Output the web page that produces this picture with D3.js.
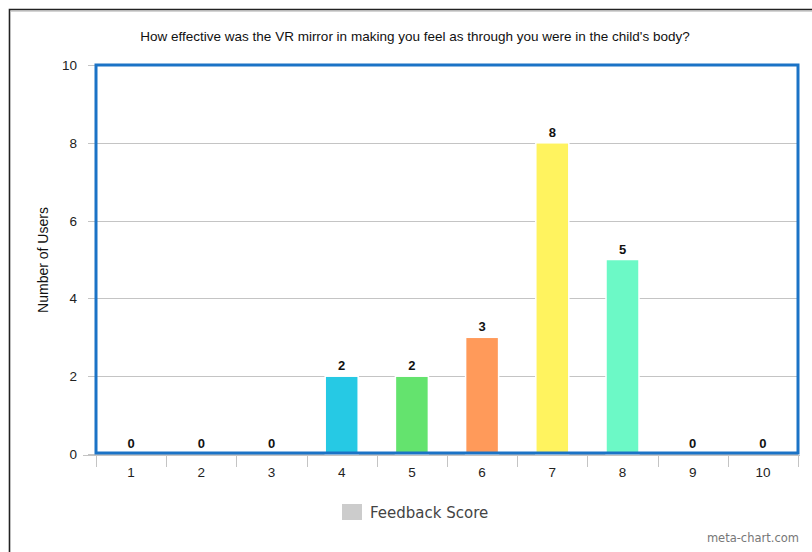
<!DOCTYPE html>
<html>
<head>
<meta charset="utf-8">
<script src="https://cdn.jsdelivr.net/npm/d3@7"></script>
<style>
  body { margin: 0; background: #fff; }
  text { font-family: "Liberation Sans", Arial, sans-serif; }
</style>
</head>
<body>
<div class="container"></div>
<script>
const WIDTH = 812;
const HEIGHT = 552;
const LEFT = 96, RIGHT = 798, TOP = 65, BOTTOM = 454;

var scores = ['1', '2', '3', '4', '5', '6', '7', '8', '9', '10'];
var users = [0, 0, 0, 2, 2, 3, 8, 5, 0, 0];
var barColors = ['#26c9e4', '#26c9e4', '#26c9e4', '#26c9e4', '#64e36e', '#ff9a5a', '#fff35f', '#6cf9c6', '#26c9e4', '#26c9e4'];
var yTicks = [0, 2, 4, 6, 8, 10];

var translate = function(x, y) {
    return `translate(${x},${y})`;
};

var draw = function() {
    var svg = d3.select('.container').append('svg')
        .attr('width', WIDTH)
        .attr('height', HEIGHT);

    // page border
    svg.append('path')
        .attr('d', `M9.5,${HEIGHT} V9.5 H${WIDTH}`)
        .attr('fill', 'none')
        .attr('stroke', '#222')
        .attr('stroke-width', 1.6);
    svg.append('line')
        .attr('x1', 11).attr('x2', WIDTH).attr('y1', 11).attr('y2', 11)
        .attr('stroke', '#aaa');

    let x = d3.scaleBand()
        .domain(scores)
        .range([LEFT, RIGHT])
        .paddingInner(0.53)
        .paddingOuter(0.265);

    let y = d3.scaleLinear()
        .domain([0, 10])
        .range([BOTTOM, TOP]);

    // gridlines
    svg.append('g')
        .selectAll('line').data(yTicks).enter()
        .append('line')
        .attr('x1', LEFT - 8).attr('x2', RIGHT)
        .attr('y1', d => Math.round(y(d)) + 0.5)
        .attr('y2', d => Math.round(y(d)) + 0.5)
        .attr('stroke', '#c4c4c4');

    // y tick labels
    svg.append('g')
        .selectAll('text').data(yTicks).enter()
        .append('text')
        .attr('x', 77)
        .attr('y', d => y(d) + 5)
        .attr('text-anchor', 'end')
        .attr('font-size', 13.5)
        .attr('fill', '#222')
        .text(d => d);

    // x axis
    let xAxis = d3.axisBottom(x).tickSize(0).tickPadding(12);
    var gx = svg.append('g')
        .attr('transform', translate(0, BOTTOM + 1))
        .call(xAxis);
    gx.select('.domain')
        .attr('d', `M${LEFT - 13},0.5H${RIGHT + 2}`)
        .attr('stroke', '#c4c4c4');
    gx.selectAll('text')
        .attr('font-size', 13.5)
        .attr('fill', '#222')
        .attr('font-family', '"Liberation Sans", Arial, sans-serif');
    var step = x.step();
    gx.append('g')
        .selectAll('line').data(scores.concat(['end'])).enter()
        .append('line')
        .attr('x1', (d, i) => Math.round(LEFT + i * step) + 0.5)
        .attr('x2', (d, i) => Math.round(LEFT + i * step) + 0.5)
        .attr('y1', 0).attr('y2', 12)
        .attr('stroke', '#c4c4c4');

    // bars
    svg.append('g')
        .selectAll('rect').data(users).enter()
        .append('rect')
        .attr('x', (d, i) => x(scores[i]))
        .attr('y', d => y(d))
        .attr('width', x.bandwidth())
        .attr('height', d => y(0) - y(d))
        .attr('fill', (d, i) => barColors[i])
        .attr('stroke', '#fff')
        .attr('stroke-width', d => d > 0 ? 1.5 : 0);

    // value labels
    svg.append('g')
        .selectAll('text').data(users).enter()
        .append('text')
        .attr('x', (d, i) => x(scores[i]) + x.bandwidth() / 2)
        .attr('y', d => y(d) - 6)
        .attr('text-anchor', 'middle')
        .attr('font-size', 13)
        .attr('font-weight', 'bold')
        .attr('fill', '#111')
        .text(d => d);

    // plot frame
    svg.append('rect')
        .attr('x', LEFT).attr('y', TOP)
        .attr('width', RIGHT - LEFT).attr('height', BOTTOM - TOP - 1)
        .attr('fill', 'none')
        .attr('stroke', '#1b73c6')
        .attr('stroke-width', 3);

    // title
    svg.append('text')
        .attr('x', 415).attr('y', 41)
        .attr('text-anchor', 'middle')
        .attr('font-size', 13.5)
        .attr('fill', '#111')
        .text("How effective was the VR mirror in making you feel as through you were in the child's body?");

    // y axis title
    svg.append('text')
        .attr('transform', translate(48, 260) + ' rotate(-90)')
        .attr('text-anchor', 'middle')
        .attr('font-size', 14)
        .attr('fill', '#111')
        .text('Number of Users');

    // legend
    svg.append('rect')
        .attr('x', 342).attr('y', 504)
        .attr('width', 20).attr('height', 16)
        .attr('fill', '#cccccc');
    svg.append('text')
        .attr('x', 370).attr('y', 518)
        .attr('font-size', 15)
        .attr('fill', '#444')
        .style('font-family', '"DejaVu Sans", sans-serif')
        .text('Feedback Score');

    svg.append('text')
        .attr('x', 799).attr('y', 542)
        .attr('text-anchor', 'end')
        .attr('font-size', 11.5)
        .attr('fill', '#777')
        .style('font-family', '"DejaVu Sans", sans-serif')
        .text('meta-chart.com');
};
window.onload = draw;
</script>
</body>
</html>
